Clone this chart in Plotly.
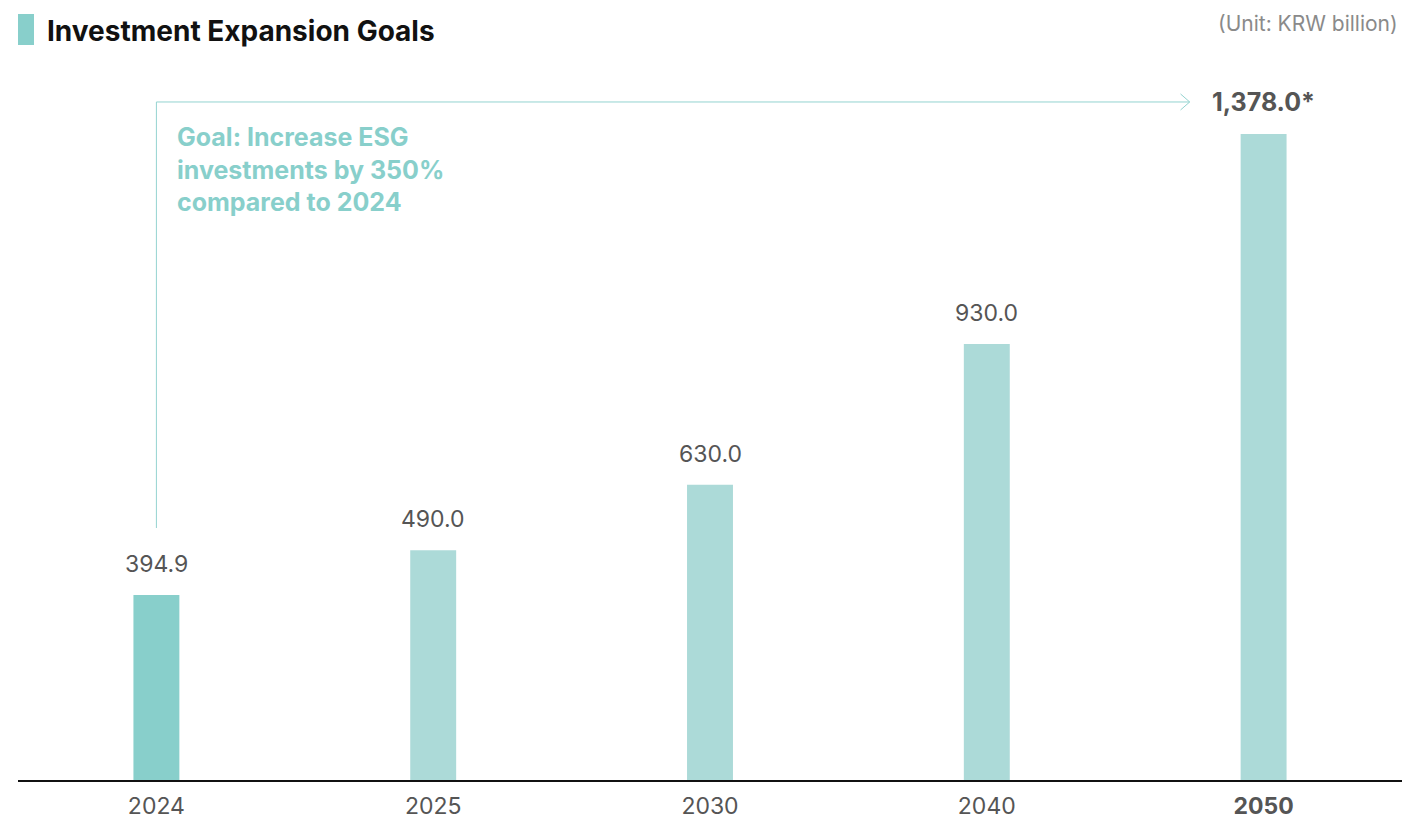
import plotly.graph_objects as go

# Investment targets (KRW billion)
years = ["2024", "2025", "2030", "2040", "2050"]
values = [394.9, 490.0, 630.0, 930.0, 1378.0]
value_labels = ["394.9", "490.0", "630.0", "930.0", "<b>1,378.0*</b>"]
label_sizes = [23, 23, 23, 23, 25]
tick_labels = ["2024", "2025", "2030", "2040", "<b>2050</b>"]
bar_colors = ["#88cfcb", "#acdad8", "#acdad8", "#acdad8", "#acdad8"]

FONT = "Inter, 'Noto Sans', sans-serif"
TEAL = "#88cfcb"
GREY = "#555555"

fig = go.Figure(
    go.Bar(
        x=years,
        y=values,
        marker=dict(color=bar_colors, line=dict(width=0)),
        width=0.166,
        hoverinfo="skip",
    )
)

# Value labels above bars (category axis -> position by index)
for i, (v, lab, sz) in enumerate(zip(values, value_labels, label_sizes)):
    fig.add_annotation(
        x=i, y=v, text=lab, showarrow=False,
        xref="x", yref="y", yanchor="bottom", yshift=15,
        font=dict(family=FONT, size=sz, color=GREY),
    )

# Title block
fig.add_shape(type="rect", xref="paper", yref="paper",
              x0=0, x1=0.01156, y0=1.0208, y1=1.0639,
              fillcolor=TEAL, line=dict(width=0))
fig.add_annotation(
    xref="paper", yref="paper", x=0.0195, y=1.040,
    xanchor="left", yanchor="middle", showarrow=False,
    text="<b>Investment Expansion Goals</b>",
    font=dict(family=FONT, size=28, color="#111111"),
)
fig.add_annotation(
    xref="paper", yref="paper", x=0.9986, y=1.051,
    xanchor="right", yanchor="middle", showarrow=False,
    text="(Unit: KRW billion)",
    font=dict(family=FONT, size=21, color="#8a8a8a"),
)

# Goal bracket: from 2024 bar up and across to 2050 label
LINE = dict(color="#94d3d0", width=1)
y_top = 0.9417
fig.add_shape(type="line", xref="x", yref="paper",
              x0=0, x1=0, y0=0.35, y1=y_top, line=LINE)
fig.add_shape(type="line", xref="x", yref="paper",
              x0=0, x1=3.733, y0=y_top, y1=y_top, line=LINE)
fig.add_shape(type="line", xref="x", yref="paper",
              x0=3.70, x1=3.733, y0=y_top + 0.0111, y1=y_top, line=LINE)
fig.add_shape(type="line", xref="x", yref="paper",
              x0=3.70, x1=3.733, y0=y_top - 0.0111, y1=y_top, line=LINE)
fig.add_annotation(
    xref="paper", yref="paper", x=0.1133, y=0.917,
    xanchor="left", yanchor="top", align="left", showarrow=False,
    text="<b>Goal: Increase ESG<br>investments by 350%<br>compared to 2024</b>",
    font=dict(family=FONT, size=25, color=TEAL),
)

fig.update_layout(
    width=1406, height=821,
    margin=dict(l=18, r=4, t=60, b=41),
    paper_bgcolor="white", plot_bgcolor="white",
    showlegend=False,
    xaxis=dict(
        type="category",
        tickvals=years, ticktext=tick_labels,
        tickfont=dict(family=FONT, size=23, color=GREY),
        showline=True, linecolor="#111111", linewidth=1.5,
        showgrid=False, ticks="", ticklabelstandoff=5,
        range=[-0.5, 4.5], automargin=False,
    ),
    yaxis=dict(
        range=[0, 1536], showgrid=False, zeroline=False,
        showline=False, showticklabels=False, ticks="",
        automargin=False,
    ),
)

fig.write_html("out.html")
